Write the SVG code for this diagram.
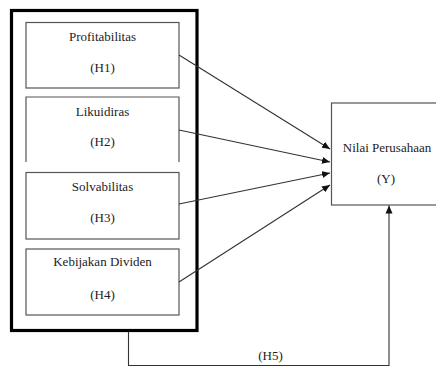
<svg xmlns="http://www.w3.org/2000/svg" width="436" height="367" viewBox="0 0 436 367">
<style>
.box{fill:#fff;stroke:#555;stroke-width:1.2}
.outer{fill:none;stroke:#000;stroke-width:3.2}
text{font-family:'Liberation Serif','DejaVu Serif',serif;font-size:13px;fill:#222;text-anchor:middle}
.c{fill:none;stroke:#333;stroke-width:1.1}
</style>
<defs>
<marker id="ah" markerUnits="userSpaceOnUse" markerWidth="9" markerHeight="8" refX="8" refY="4" orient="auto">
<path d="M0,0.5 L8,4 L0,7.5 Z" fill="#111"/>
</marker>
</defs>
<rect width="436" height="367" fill="#fff"/>
<g id="group-box">
<rect class="outer" x="11.5" y="10.5" width="185.5" height="320"/>
</g>
<g id="h1" font-family="Liberation Serif, serif">
<rect class="box" x="26" y="22.5" width="153" height="65.5"/>
<text x="102.5" y="40.5" font-family="Liberation Serif, serif">Profitabilitas</text>
<text x="102.5" y="72" font-family="Liberation Serif, serif">(H1)</text>
</g>
<g id="h2">
<path class="box" d="M26,162 V97 H179 V162"/>
<text x="102.5" y="116" font-family="Liberation Serif, serif">Likuidiras</text>
<text x="102.5" y="146" font-family="Liberation Serif, serif">(H2)</text>
</g>
<g id="h3">
<rect class="box" x="26" y="172.5" width="153" height="66.5"/>
<text x="102.5" y="191" font-family="Liberation Serif, serif">Solvabilitas</text>
<text x="102.5" y="222" font-family="Liberation Serif, serif">(H3)</text>
</g>
<g id="h4">
<rect class="box" x="26" y="249" width="153" height="66"/>
<text x="102.5" y="266" font-family="Liberation Serif, serif">Kebijakan Dividen</text>
<text x="102.5" y="299" font-family="Liberation Serif, serif">(H4)</text>
</g>
<g id="y">
<rect class="box" x="331.5" y="103" width="110" height="102"/>
<text x="387" y="152" font-family="Liberation Serif, serif">Nilai Perusahaan</text>
<text x="386" y="183" font-family="Liberation Serif, serif">(Y)</text>
</g>
<g id="connectors">
<line class="c" x1="179" y1="55" x2="330" y2="149" marker-end="url(#ah)"/>
<line class="c" x1="179" y1="130" x2="330" y2="162" marker-end="url(#ah)"/>
<line class="c" x1="179" y1="204" x2="330" y2="173" marker-end="url(#ah)"/>
<line class="c" x1="179" y1="282" x2="330" y2="185" marker-end="url(#ah)"/>
<path class="c" d="M128.5,332 V365.5 H389 V205.5" marker-end="url(#ah)"/>
<text x="270.5" y="360" font-family="Liberation Serif, serif">(H5)</text>
</g>
</svg>
